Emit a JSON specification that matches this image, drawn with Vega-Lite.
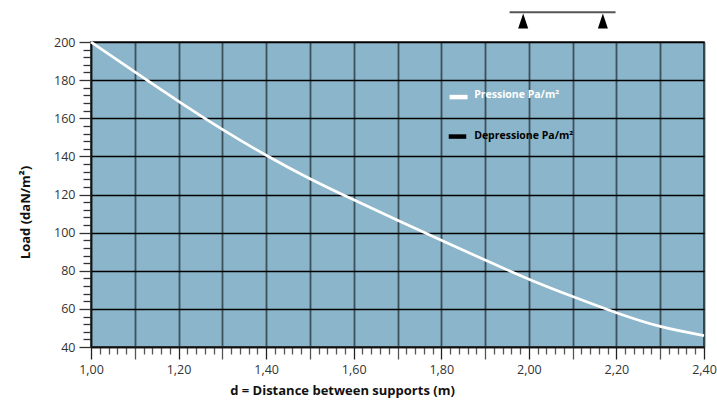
{
  "$schema": "https://vega.github.io/schema/vega-lite/v6.json",
  "width": 613,
  "height": 305,
  "autosize": "none",
  "padding": {"left": 91, "top": 42, "right": 13, "bottom": 54},
  "background": "white",
  "config": {
    "view": {"fill": "#8bb5ca", "stroke": "#222222", "strokeWidth": 1.5},
    "font": "Open Sans"
  },
  "datasets": {
    "curve": [
      {"d": 1.00, "load": 200},
      {"d": 1.10, "load": 184.3},
      {"d": 1.20, "load": 168.9},
      {"d": 1.30, "load": 154.2},
      {"d": 1.40, "load": 140.6},
      {"d": 1.50, "load": 128.3},
      {"d": 1.60, "load": 117.2},
      {"d": 1.70, "load": 106.5},
      {"d": 1.80, "load": 96.0},
      {"d": 1.90, "load": 85.6},
      {"d": 2.00, "load": 75.6},
      {"d": 2.10, "load": 66.5},
      {"d": 2.20, "load": 58.0},
      {"d": 2.30, "load": 50.8},
      {"d": 2.40, "load": 46.0}
    ],
    "legend": [
      {"label": "Pressione Pa/m²", "x1": 1.819, "x2": 1.860, "bary": 171.1, "tx": 1.875, "ty": 172.0, "series": "Pressione"},
      {"label": "Depressione Pa/m²", "x1": 1.817, "x2": 1.857, "bary": 150.4, "tx": 1.875, "ty": 150.6, "series": "Depressione"}
    ],
    "beam": [{"x1": 1.956, "x2": 2.198, "y": 215.6}],
    "supports": [{"x": 1.987, "y": 211.0}, {"x": 2.169, "y": 211.0}]
  },
  "layer": [
    {
      "data": {"name": "curve"},
      "mark": {"type": "line", "interpolate": "natural", "color": "white", "strokeWidth": 2.7},
      "encoding": {
        "x": {
          "field": "d", "type": "quantitative",
          "scale": {"domain": [1.0, 2.4], "nice": false, "zero": false},
          "axis": {
            "values": [1.00,1.02,1.04,1.06,1.08,1.10,1.12,1.14,1.16,1.18,1.20,1.22,1.24,1.26,1.28,1.30,1.32,1.34,1.36,1.38,1.40,1.42,1.44,1.46,1.48,1.50,1.52,1.54,1.56,1.58,1.60,1.62,1.64,1.66,1.68,1.70,1.72,1.74,1.76,1.78,1.80,1.82,1.84,1.86,1.88,1.90,1.92,1.94,1.96,1.98,2.00,2.02,2.04,2.06,2.08,2.10,2.12,2.14,2.16,2.18,2.20,2.22,2.24,2.26,2.28,2.30,2.32,2.34,2.36,2.38,2.40],
            "tickCount": 200,
            "labelExpr": "round(datum.value*50) % 10 === 0 ? replace(format(datum.value, '.2f'), '.', ',') : ''",
            "labelOverlap": false,
            "labelFlush": false,
            "labelFontSize": 12.5,
            "labelColor": "#333333",
            "labelPadding": 4,
            "tickSize": {"condition": {"test": "round(datum.value*50) % 5 === 0", "value": 12}, "value": 7},
            "tickColor": {"condition": {"test": "round(datum.value*50) % 10 === 0", "value": "#222222"}, "value": "#555555"},
            "tickWidth": 1.3,
            "grid": true,
            "gridColor": "#34464f",
            "gridWidth": 1.8,
            "gridOpacity": {"condition": {"test": "round(datum.value*50) % 5 === 0", "value": 0.9}, "value": 0},
            "domainColor": "#111111",
            "domainWidth": 1.5,
            "title": "d = Distance between supports (m)",
            "titleFontSize": 13,
            "titleFontWeight": "bold",
            "titleColor": "#111111",
            "titleX": 251,
            "titleY": 47,
            "titleBaseline": "alphabetic",
            "titleAlign": "center"
          }
        },
        "y": {
          "field": "load", "type": "quantitative",
          "scale": {"domain": [40, 200], "nice": false, "zero": false},
          "axis": {
            "values": [40,44,48,52,56,60,64,68,72,76,80,84,88,92,96,100,104,108,112,116,120,124,128,132,136,140,144,148,152,156,160,164,168,172,176,180,184,188,192,196,200],
            "tickCount": 200,
            "labelExpr": "datum.value % 20 === 0 ? datum.label : ''",
            "labelOverlap": false,
            "labelFontSize": 12.5,
            "labelColor": "#333333",
            "labelPadding": 4,
            "tickSize": {"condition": {"test": "datum.value % 20 === 0", "value": 12}, "value": 8},
            "tickColor": "#333333",
            "tickWidth": 1.3,
            "grid": true,
            "gridColor": "#000000",
            "gridWidth": 1.3,
            "gridOpacity": {"condition": {"test": "datum.value % 20 === 0", "value": 1}, "value": 0},
            "domainColor": "#111111",
            "domainWidth": 1.5,
            "title": "Load (daN/m²)",
            "titleFontSize": 13,
            "titleFontWeight": "bold",
            "titleColor": "#111111",
            "titleX": -65.5,
            "titleY": 170,
            "titleBaseline": "middle",
            "titleAlign": "center"
          }
        }
      }
    },
    {
      "data": {"name": "legend"},
      "mark": {"type": "rule", "strokeWidth": 4.5},
      "encoding": {
        "x": {"field": "x1", "type": "quantitative"},
        "x2": {"field": "x2"},
        "y": {"field": "bary", "type": "quantitative"},
        "color": {"field": "series", "type": "nominal", "scale": {"domain": ["Pressione", "Depressione"], "range": ["#ffffff", "#000000"]}, "legend": null}
      }
    },
    {
      "data": {"name": "legend"},
      "mark": {"type": "text", "align": "left", "baseline": "middle", "fontSize": 10.5, "fontWeight": "bold", "font": "Open Sans"},
      "encoding": {
        "x": {"field": "tx", "type": "quantitative"},
        "y": {"field": "ty", "type": "quantitative"},
        "text": {"field": "label"},
        "color": {"field": "series", "type": "nominal", "scale": {"domain": ["Pressione", "Depressione"], "range": ["#ffffff", "#000000"]}, "legend": null}
      }
    },
    {
      "data": {"name": "beam"},
      "mark": {"type": "rule", "color": "#555555", "strokeWidth": 1.8},
      "encoding": {
        "x": {"field": "x1", "type": "quantitative"},
        "x2": {"field": "x2"},
        "y": {"field": "y", "type": "quantitative"}
      }
    },
    {
      "data": {"name": "supports"},
      "mark": {"type": "point", "shape": "M0,-1L-0.667,1L0.667,1Z", "filled": true, "color": "#000000", "size": 225, "opacity": 1},
      "encoding": {
        "x": {"field": "x", "type": "quantitative"},
        "y": {"field": "y", "type": "quantitative"}
      }
    }
  ]
}
